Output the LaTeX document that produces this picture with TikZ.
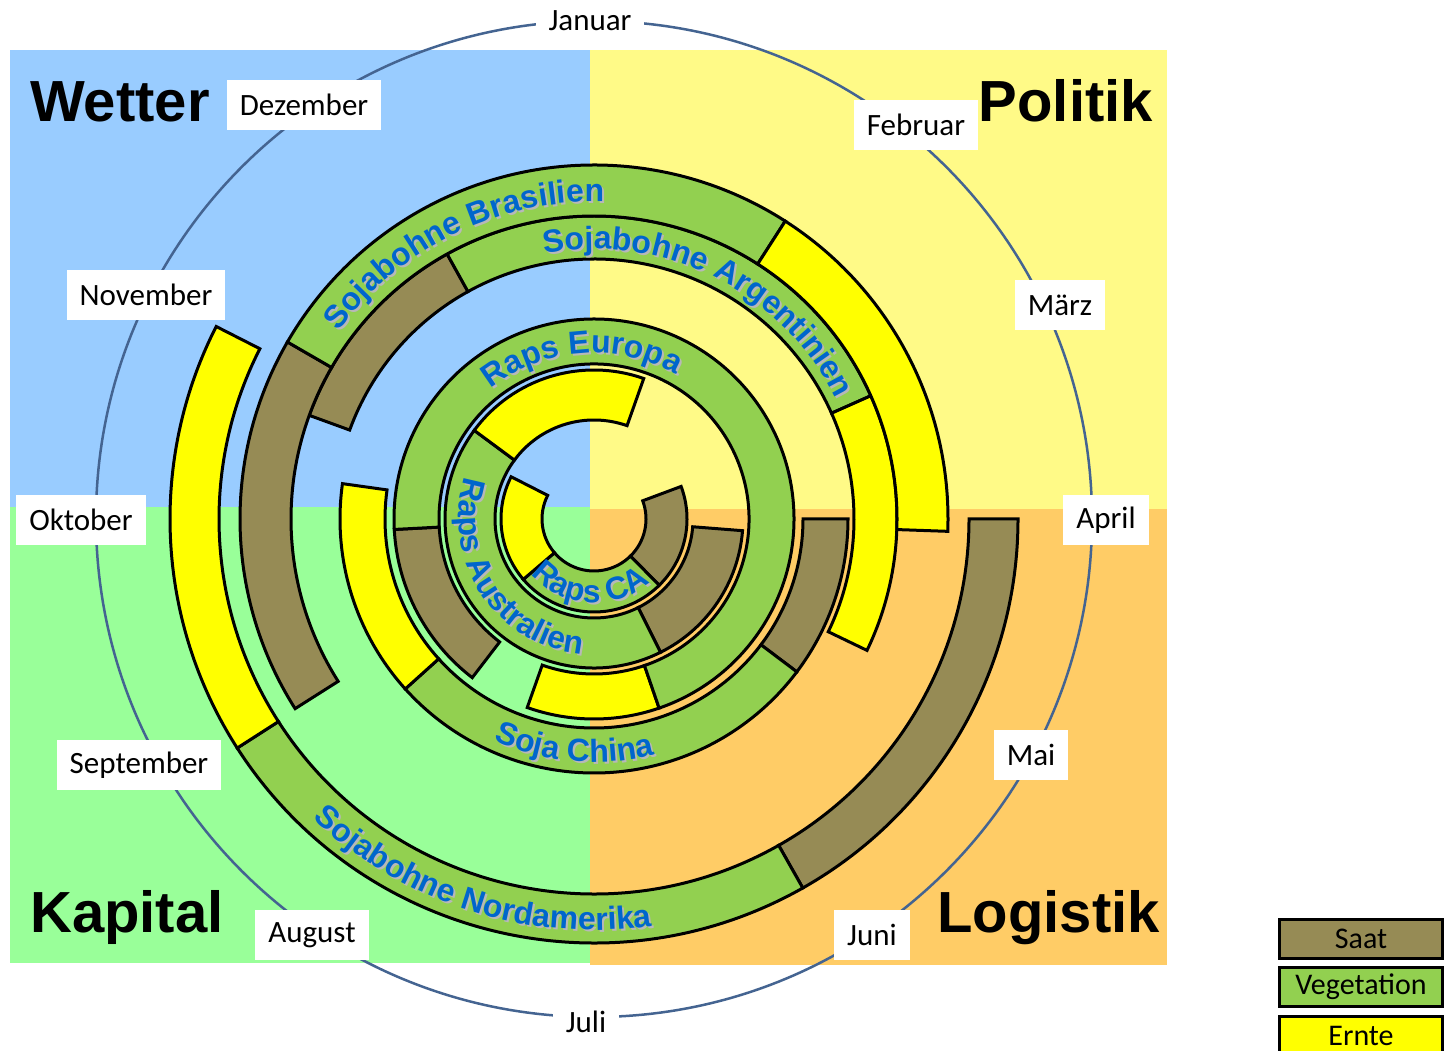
\documentclass[tikz,border=0pt]{standalone}
\usepackage{fontspec}
\setmainfont{Carlito}
\newfontfamily\lsans{Liberation Sans}
\usetikzlibrary{decorations.text}
\definecolor{saat}{RGB}{150,139,85}
\definecolor{veg}{RGB}{146,208,80}
\definecolor{ernte}{RGB}{255,255,0}
\definecolor{qblue}{RGB}{153,204,255}
\definecolor{qyellow}{RGB}{255,250,135}
\definecolor{qgreen}{RGB}{153,255,153}
\definecolor{qorange}{RGB}{255,204,102}
\definecolor{mline}{RGB}{68,100,145}
\definecolor{tblue}{RGB}{0,102,204}
% annular sector: r1 r2 theta1 theta2 colour (theta clockwise from top)
\newcommand{\seg}[5]{\filldraw[segst,fill=#5] ({90-(#3)}:#2) arc[start angle={90-(#3)}, end angle={90-(#4)}, radius=#2] -- ({90-(#4)}:#1) arc[start angle={90-(#4)}, end angle={90-(#3)}, radius=#1] -- cycle;}
% curved label: theta start, theta end, radius, text
\newcommand{\ringtext}[4]{%
\path[shift={(2,-2)}, decorate, decoration={text along path, text align=center, text={|\lsans\bfseries\fontsize{32}{32}\selectfont\color{black!28}|#4}}] ({90-(#1)}:#3) arc[start angle={90-(#1)}, end angle={90-(#2)}, radius=#3];
\path[decorate, decoration={text along path, text align=center, text={|\lsans\bfseries\fontsize{32}{32}\selectfont\color{tblue}|#4}}] ({90-(#1)}:#3) arc[start angle={90-(#1)}, end angle={90-(#2)}, radius=#3];}
\begin{document}
\begin{tikzpicture}[x=1pt,y=1pt,
  segst/.style={draw=black, line width=3pt, line join=miter},
  month/.style={fill=white, inner xsep=13pt, inner ysep=0pt, minimum height=50pt, font=\fontsize{31}{31}\selectfont},
  title/.style={inner sep=0pt, font=\lsans\bfseries\fontsize{58}{58}\selectfont},
  legbox/.style={draw=black, line width=3pt, minimum width=163pt, minimum height=39pt, inner sep=0pt, font=\fontsize{30}{30}\selectfont}]
\useasboundingbox (0,0) rectangle (1447,1051);
\clip (0,0) rectangle (1447,1051);
\fill[white] (0,0) rectangle (1447,1051);
% quadrants
\fill[qblue] (10,1001) rectangle (590,544);
\fill[qyellow] (590,1001) rectangle (1167,542);
\fill[qgreen] (10,544) rectangle (590,88);
\fill[qorange] (590,542) rectangle (1167,86);
% month circle
\coordinate (C) at (594,532);
\draw[mline, line width=2.5pt] (C) circle[radius=498];
\begin{scope}[shift={(594,532)}]
% Raps CA
\seg{52}{93}{69.5}{135.5}{saat}
\seg{52}{93}{135.5}{229.5}{veg}
\seg{52}{93}{229.5}{297}{ernte}
% Raps Australien
\seg{99}{149}{94.5}{153.5}{saat}
\seg{99}{149}{153.5}{306.5}{veg}
\seg{99}{149}{306.5}{379.5}{ernte}
% Raps Europa
\seg{155}{200}{161}{199.5}{ernte}
\seg{155}{200}{217.5}{267}{saat}
\seg{155}{200}{267}{521}{veg}
% Soja China
\seg{209}{254}{90}{127}{saat}
\seg{209}{254}{127}{228}{veg}
\seg{209}{254}{228}{278}{ernte}
% Sojabohne Argentinien
\seg{260}{303}{290}{331}{saat}
\seg{260}{303}{331}{426}{veg}
\seg{260}{303}{66}{115.7}{ernte}
% Sojabohne Brasilien
\seg{303}{354}{237.6}{300}{saat}
\seg{303}{354}{300}{392.7}{veg}
\seg{303}{354}{392.7}{452}{ernte}
% Sojabohne Nordamerika
\seg{375}{424}{90}{150.5}{saat}
\seg{375}{424}{150.5}{237.3}{veg}
\seg{375}{424}{237.3}{297}{ernte}
% curved labels
\ringtext{274}{394}{317}{Sojabohne Brasilien}
\ringtext{326}{447}{270}{Sojabohne Argentinien}
\ringtext{290}{421}{166}{Raps Europa}
\ringtext{245}{125}{243}{Soja China}
\ringtext{260}{135}{411}{Sojabohne Nordamerika}
\ringtext{330}{143}{135.5}{Raps Australien}
\ringtext{280}{87}{84}{Raps CA}
\end{scope}
% months
\node[month, minimum height=42pt] (jan) at (590,1030) {Januar};
\node[month] (feb) at (916,926) {Februar};
\node[month] (mar) at (1060,746) {März};
\node[month] (apr) at (1106,531) {April};
\node[month] (mai) at (1031,296) {Mai};
\node[month] (jun) at (872,116) {Juni};
\node[month, minimum height=45pt] (jul) at (586,29) {Juli};
\node[month] (aug) at (312,116) {August};
\node[month] (sep) at (139,286) {September};
\node[month] (okt) at (81,531) {Oktober};
\node[month] (nov) at (146,756) {November};
\node[month] (dez) at (304,946) {Dezember};
% quadrant titles
\node[title, anchor=base west] (wetter) at (30,929) {Wetter};
\node[title, anchor=base east] (politik) at (1153,929) {Politik};
\node[title, anchor=base west] (kapital) at (30,118) {Kapital};
\node[title, anchor=base east] (logistik) at (1160,118) {Logistik};
% legend
\node[legbox, fill=saat] (lsaat) at (1361,112) {Saat};
\node[legbox, fill=veg] (lveg) at (1361,64) {Vegetation};
\node[legbox, fill=ernte] (lernte) at (1361,15) {Ernte};
\end{tikzpicture}
\end{document}
